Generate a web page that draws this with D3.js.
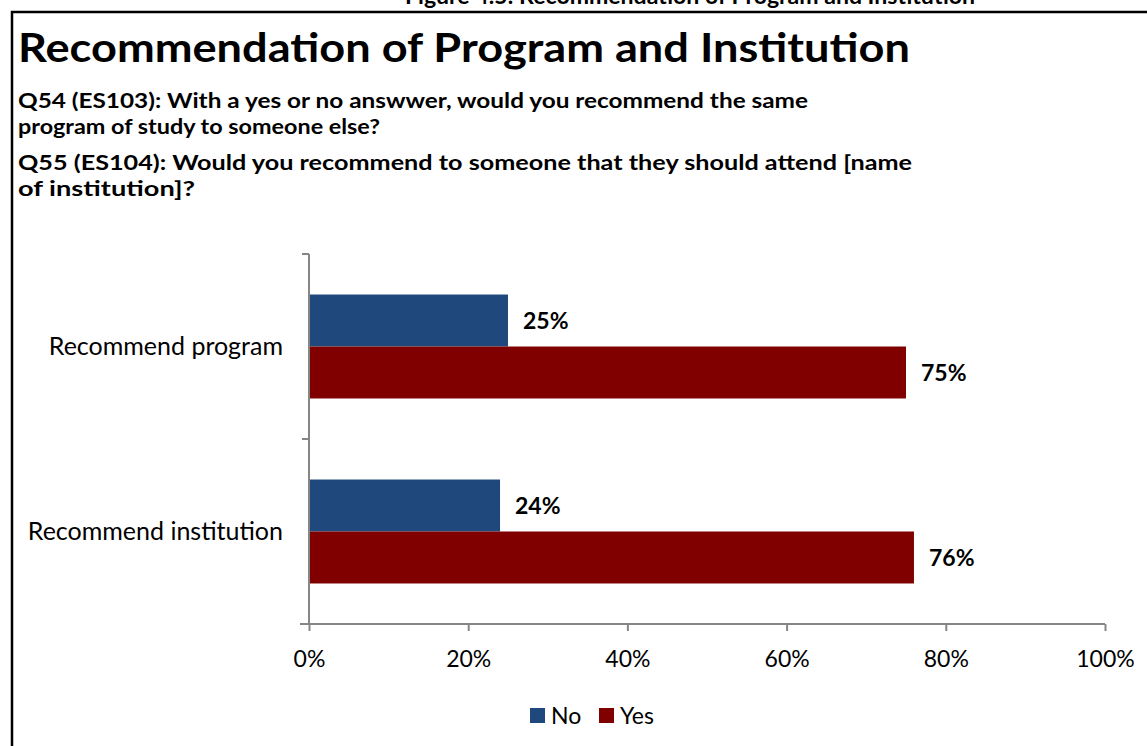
<!DOCTYPE html>
<html>
<head>
<meta charset="utf-8">
<script src="https://cdn.jsdelivr.net/npm/d3@7"></script>
<style>
  html, body { margin: 0; padding: 0; background: #fff; }
  svg { display: block; }
  text { font-family: Lato, "Open Sans", sans-serif; fill: #000; }
</style>
</head>
<body>
<svg id="chart" width="1147" height="746"></svg>
<script>
// Chart data
const categories = ["Recommend program", "Recommend institution"];
const seriesNames = ["No", "Yes"];
const noValues = [25, 24];
const yesValues = [75, 76];
const xTicks = [0, 20, 40, 60, 80, 100];

const caption = "Figure 4.5: Recommendation of Program and Institution";
const title = "Recommendation of Program and Institution";
const subtitleLines = [
  "Q54 (ES103): With a yes or no answwer, would you recommend the same",
  "program of study to someone else?",
  "Q55 (ES104): Would you recommend to someone that they should attend [name",
  "of institution]?"
];

const colors = { No: "#1F497D", Yes: "#800000" };
const axisColor = "#868686";

const svg = d3.select("#chart");

// Caption above the framed figure (its top runs past the page edge)
svg.append("text")
  .attr("x", 690).attr("y", 4)
  .attr("text-anchor", "middle")
  .attr("font-size", 22).attr("font-weight", "bold")
  .attr("textLength", 570).attr("lengthAdjust", "spacingAndGlyphs")
  .text(caption);

// Frame
svg.append("path")
  .attr("d", "M12,746 V12 H1147")
  .attr("fill", "none")
  .attr("stroke", "#000")
  .attr("stroke-width", 2.5);

// Title
svg.append("text")
  .attr("x", 18).attr("y", 62)
  .attr("font-size", 41).attr("font-weight", "bold")
  .attr("textLength", 892).attr("lengthAdjust", "spacingAndGlyphs")
  .text(title);

// Subtitle lines
const subY = [108, 134, 170, 196];
const subW = [790, 362, 894, 177];
svg.selectAll("text.sub")
  .data(subtitleLines)
  .join("text")
  .attr("class", "sub")
  .attr("x", 18)
  .attr("y", (d, i) => subY[i])
  .attr("font-size", 20).attr("font-weight", "bold")
  .attr("textLength", (d, i) => subW[i]).attr("lengthAdjust", "spacingAndGlyphs")
  .text(d => d);

// Plot geometry
const plot = { left: 309, right: 1105, top: 254, bottom: 624 };

const x = d3.scaleLinear().domain([0, 100]).range([plot.left, plot.right]);
const y = d3.scaleBand().domain(categories).range([plot.top, plot.bottom]).paddingInner(0.438).paddingOuter(0.219);
const ySub = d3.scaleBand().domain(seriesNames).range([0, y.bandwidth()]);

// Full category bands for tick positions
const yOuter = d3.scaleBand().domain(categories).range([plot.top, plot.bottom]);

const rows = categories.map((c, i) => ({ cat: c, No: noValues[i], Yes: yesValues[i] }));

// Bars
const groups = svg.selectAll("g.cat")
  .data(rows)
  .join("g")
  .attr("class", "cat")
  .attr("transform", d => `translate(0,${y(d.cat)})`);

groups.selectAll("rect")
  .data(d => seriesNames.map(s => ({ s, v: d[s] })))
  .join("rect")
  .attr("x", x(0))
  .attr("y", d => ySub(d.s))
  .attr("width", d => x(d.v) - x(0))
  .attr("height", ySub.bandwidth())
  .attr("fill", d => colors[d.s]);

// Value labels
groups.selectAll("text.val")
  .data(d => seriesNames.map(s => ({ s, v: d[s] })))
  .join("text")
  .attr("class", "val")
  .attr("x", d => x(d.v) + 15)
  .attr("y", d => ySub(d.s) + ySub.bandwidth() / 2)
  .attr("dy", "0.35em")
  .attr("font-size", 23).attr("font-weight", "bold")
  .text(d => d.v + "%");

// Category axis
const yAxis = d3.axisLeft(yOuter).tickSize(0).tickFormat("");
const gy = svg.append("g").attr("transform", `translate(${plot.left},0)`).call(yAxis);
gy.select(".domain").attr("stroke", axisColor).attr("stroke-width", 2).attr("d", `M0,${plot.top}V${plot.bottom}`);
// boundary ticks between categories
const boundaries = [plot.top, ...categories.map(c => yOuter(c) + yOuter.bandwidth())];
gy.selectAll("line.bound")
  .data(boundaries)
  .join("line")
  .attr("class", "bound")
  .attr("x1", -7).attr("x2", 0)
  .attr("y1", d => d).attr("y2", d => d)
  .attr("stroke", axisColor).attr("stroke-width", 2);

// Category labels
svg.selectAll("text.cat")
  .data(categories)
  .join("text")
  .attr("class", "cat")
  .attr("x", 283)
  .attr("y", d => y(d) + y.bandwidth() / 2)
  .attr("dy", "0.35em")
  .attr("text-anchor", "end")
  .attr("font-size", 25)
  .text(d => d);

// Value axis
const xAxis = d3.axisBottom(x).tickValues(xTicks).tickFormat(d => d + "%").tickSize(7).tickPadding(20);
const gx = svg.append("g").attr("transform", `translate(0,${plot.bottom})`).call(xAxis);
gx.select(".domain").attr("stroke", axisColor).attr("stroke-width", 2).attr("d", `M${plot.left - 9},0H${plot.right}`);
gx.selectAll(".tick line").attr("stroke", axisColor).attr("stroke-width", 2);
gx.selectAll(".tick text").attr("font-size", 23).attr("font-family", "Lato, 'Open Sans', sans-serif").attr("fill", "#000");

// Legend
const legendItems = [{ s: "No", x: 530 }, { s: "Yes", x: 599 }];
const lg = svg.selectAll("g.legend")
  .data(legendItems)
  .join("g")
  .attr("class", "legend")
  .attr("transform", d => `translate(${d.x},708)`);
lg.append("rect").attr("width", 15).attr("height", 15).attr("fill", d => colors[d.s]);
lg.append("text").attr("x", 21).attr("y", 8).attr("dy", "0.35em").attr("font-size", 23).text(d => d.s);
</script>
</body>
</html>
